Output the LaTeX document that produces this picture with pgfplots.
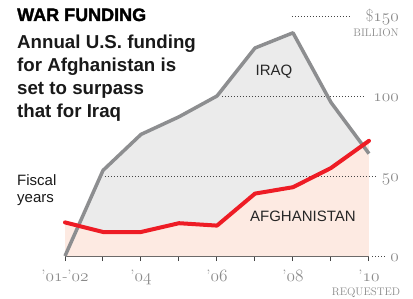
\documentclass[border=0pt]{standalone}
\usepackage{pgfplots}
\pgfplotsset{compat=1.18}
\usepackage{fontspec}
\setsansfont{Liberation Sans}
\newfontfamily\heavyfont[FakeBold=1.6]{Liberation Sans Bold}
\definecolor{iraqfill}{HTML}{EBEBEB}
\definecolor{afgfill}{HTML}{FDEAE2}
\definecolor{iraqline}{HTML}{8D8E90}
\definecolor{afgline}{HTML}{EE1C25}
\definecolor{labgray}{HTML}{8A8A8A}
\definecolor{dotc}{HTML}{444444}
\newcommand{\osn}[1]{$\mathnormal{#1}$}
\newcommand{\lmfont}{\fontsize{16.5}{18}\selectfont}
\begin{document}
\begin{tikzpicture}[x=1pt,y=1pt]
\useasboundingbox (0,0) rectangle (413,298);
\begin{axis}[
  at={(65pt,42pt)}, anchor=south west,
  scale only axis, width=304pt, height=240pt,
  xmin=0, xmax=8, ymin=0, ymax=150,
  clip=false,
  axis x line*=bottom, axis y line=none,
  x axis line style={-, draw=dotc, line width=1.2pt},
  xtick={0,...,8}, xticklabels={,,,,,,,,},
  xtick align=outside, major tick length=5pt,
  xtick style={draw=dotc, line width=1pt},
  ytick=\empty,
]
\addplot[fill=iraqfill, draw=none] coordinates {(0,0) (1,53.5) (2,76) (3,87) (4,100) (5,130) (6,139.5) (7,96) (8,64)} \closedcycle;
\addplot[fill=afgfill, draw=none] coordinates {(0,21) (1,15) (2,15) (3,20.5) (4,19) (5,39) (6,43) (7,55) (8,72)} \closedcycle;
\draw[dotc, line width=0.9pt, dash pattern=on 0.9pt off 2.1pt] (axis cs:1.05,50) -- (axis cs:8.16,50);
\draw[dotc, line width=0.9pt, dash pattern=on 0.9pt off 2.1pt] (axis cs:4.13,100) -- (axis cs:7.89,100);
\draw[dotc, line width=0.9pt, dash pattern=on 0.9pt off 2.1pt] (axis cs:5.97,150) -- (axis cs:7.5,150);
\draw[dotc, line width=0.9pt, dash pattern=on 0.9pt off 2.1pt] (axis cs:8.08,0) -- (axis cs:8.42,0);
\addplot[iraqline, line width=3.5pt, line join=round] coordinates {(0,0) (1,53.5) (2,76) (3,87) (4,100) (5,130) (6,139.5) (7,96) (8,64)};
\addplot[afgline, line width=4pt, line join=round, line cap=round] coordinates {(0,21) (1,15) (2,15) (3,20.5) (4,19) (5,39) (6,43) (7,55) (8,72)};
% x labels
\node[anchor=base, labgray, font=\lmfont, yshift=-25pt] at (axis cs:0,0) {’\osn{01}-’\osn{02}};
\node[anchor=base, labgray, font=\lmfont, yshift=-25pt] at (axis cs:2,0) {’\osn{04}};
\node[anchor=base, labgray, font=\lmfont, yshift=-25pt] at (axis cs:4,0) {’\osn{06}};
\node[anchor=base, labgray, font=\lmfont, yshift=-25pt] at (axis cs:6,0) {’\osn{08}};
\node[anchor=base, labgray, font=\lmfont, yshift=-25pt] at (axis cs:8,0) {’\osn{10}};
% y labels
\node[anchor=base east, labgray, font=\lmfont, xshift=30pt, yshift=-5pt, inner sep=0pt] at (axis cs:8,0) {\osn{0}};
\node[anchor=base east, labgray, font=\lmfont, xshift=30pt, yshift=-5pt, inner sep=0pt] at (axis cs:8,50) {\osn{50}};
\node[anchor=base east, labgray, font=\lmfont, xshift=30pt, yshift=-5pt, inner sep=0pt] at (axis cs:8,100) {\osn{100}};
\node[anchor=base east, labgray, font=\lmfont, xshift=30pt, yshift=-5pt, inner sep=0pt] at (axis cs:8,150) {\$\osn{150}};
% series labels
\node[font=\sffamily\fontsize{15}{15}\selectfont, text=black!85] at (axis cs:5.5,115) {IRAQ};
\node[font=\sffamily\fontsize{15}{15}\selectfont, text=black!85] at (axis cs:6.26,25) {AFGHANISTAN};
\end{axis}
\node[anchor=base east, labgray, font=\fontsize{11}{11}\selectfont, inner sep=0pt] at (399,261) {BILLION};
\node[anchor=base, labgray, font=\fontsize{11}{11}\selectfont, inner sep=0pt] at (366,3) {REQUESTED};
\node[anchor=base west, inner sep=0pt, font=\heavyfont\fontsize{18}{18}\selectfont] at (17,277) {WAR FUNDING};
\node[anchor=base west, inner sep=0pt, align=left, font=\sffamily\bfseries\fontsize{18.7}{23.3}\selectfont, text=black!90] at (17,180) {Annual U.S. funding\\for Afghanistan is\\set to surpass\\that for Iraq};
\node[anchor=base west, inner sep=0pt, align=left, font=\sffamily\fontsize{15}{16.5}\selectfont, text=black!90] at (17,96) {Fiscal\\years};
\end{tikzpicture}
\end{document}
